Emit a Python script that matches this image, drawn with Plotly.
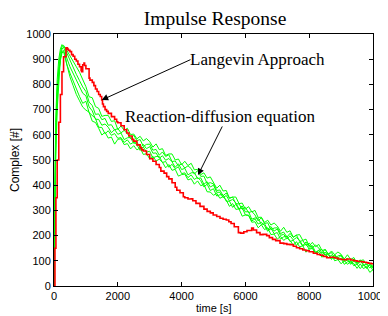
import plotly.graph_objects as go

# ---- data ----
t_green = [0, 20, 50, 100, 150, 200, 250, 300, 350, 400, 500, 600, 700, 800, 900,
           1000, 1100, 1200, 1300, 1400, 1500, 1600, 1700, 1800, 1900,
           2000, 2100, 2200, 2300, 2400, 2500, 2600, 2700, 2800, 2900,
           3000, 3100, 3200, 3300, 3400, 3500, 3600, 3700, 3800, 3900,
           4000, 4100, 4200, 4300, 4400, 4500, 4600, 4700, 4800, 4900,
           5000, 5100, 5200, 5300, 5400, 5500, 5600, 5700, 5800, 5900,
           6000, 6100, 6200, 6300, 6400, 6500, 6600, 6700, 6800, 6900,
           7000, 7100, 7200, 7300, 7400, 7500, 7600, 7700, 7800, 7900,
           8000, 8100, 8200, 8300, 8400, 8500, 8600, 8700, 8800, 8900,
           9000, 9100, 9200, 9300, 9400, 9500, 9600, 9700, 9800, 9900, 10000]

green_a = [0, 380, 650, 820, 900, 940, 958, 950, 945, 935, 915, 895, 870, 848, 822,
           791, 751, 747, 712, 705, 673, 677, 677, 653, 656,
           621, 635, 618, 626, 601, 603, 584, 594, 576, 585,
           573, 551, 564, 541, 545, 518, 524, 524, 500, 504,
           481, 495, 478, 487, 461, 463, 442, 449, 428, 433,
           412, 388, 400, 377, 379, 349, 353, 353, 327, 329,
           305, 315, 294, 300, 272, 273, 252, 261, 242, 250,
           238, 217, 233, 213, 219, 194, 202, 204, 181, 186,
           159, 173, 156, 165, 141, 144, 126, 139, 124, 135,
           126, 107, 124, 105, 113, 89, 100, 104, 84, 92, 74]
green_b = [0, 250, 520, 760, 870, 925, 950, 955, 945, 925, 895, 865, 840, 815, 790,
           772, 730, 716, 681, 683, 660, 665, 638, 640, 619,
           625, 608, 617, 605, 584, 598, 577, 581, 554, 562,
           563, 539, 542, 519, 532, 514, 521, 494, 496, 476,
           485, 468, 477, 466, 444, 458, 435, 436, 406, 410,
           405, 379, 381, 358, 369, 348, 353, 326, 326, 304,
           312, 291, 296, 282, 258, 271, 248, 251, 223, 230,
           231, 208, 214, 194, 209, 193, 202, 177, 180, 161,
           170, 153, 162, 151, 131, 146, 126, 133, 109, 119,
           123, 102, 109, 90, 107, 92, 104, 81, 87, 71, 85]
green_c = [0, 200, 480, 700, 830, 900, 940, 948, 930, 905, 870, 845, 815, 790, 765,
           755, 711, 695, 662, 661, 638, 643, 630, 608, 621,
           602, 607, 581, 588, 590, 566, 571, 549, 562, 545,
           553, 527, 528, 507, 517, 499, 506, 493, 471, 485,
           462, 467, 441, 449, 450, 426, 429, 404, 414, 393,
           400, 372, 372, 351, 359, 338, 343, 330, 306, 318,
           294, 295, 265, 270, 269, 244, 247, 224, 236, 218,
           226, 201, 205, 187, 199, 183, 192, 181, 160, 175,
           155, 160, 134, 142, 145, 122, 128, 109, 125, 110,
           121, 98, 103, 86, 100, 85, 97, 88, 70, 88, 70]
green_d = [0, 420, 600, 780, 860, 905, 930, 935, 915, 880, 845, 812, 780, 752, 725,
           733, 688, 677, 665, 630, 629, 604, 616, 598, 605,
           586, 589, 570, 580, 563, 571, 560, 538, 552, 531,
           535, 508, 514, 514, 490, 494, 471, 483, 465, 473,
           446, 449, 430, 441, 423, 431, 418, 393, 404, 379,
           386, 357, 362, 362, 336, 337, 312, 324, 304, 310,
           282, 281, 258, 266, 246, 253, 240, 217, 230, 208,
           212, 186, 195, 198, 176, 182, 161, 175, 158, 167,
           146, 149, 130, 141, 125, 134, 124, 105, 122, 103,
           110, 86, 96, 100, 80, 87, 69, 85, 71, 83, 61]
green_e = [0, 350, 580, 740, 845, 895, 925, 930, 905, 870, 830, 795, 760, 735, 710,
           698, 690, 654, 649, 626, 599, 610, 587, 591, 563,
           582, 584, 561, 565, 544, 557, 540, 548, 522, 525,
           505, 515, 496, 503, 491, 469, 482, 459, 463, 436,
           442, 444, 421, 426, 404, 417, 398, 403, 374, 373,
           360, 368, 348, 355, 341, 316, 327, 304, 306, 277,
           282, 280, 253, 255, 231, 243, 224, 231, 204, 206,
           186, 197, 181, 191, 181, 161, 176, 155, 160, 134,
           150, 152, 129, 134, 114, 128, 112, 123, 100, 105,
           88, 101, 86, 97, 89, 70, 88, 69, 77, 54, 65]
green_series = [green_a, green_b, green_c, green_d, green_e]

t_red = [0, 30, 60, 100, 150, 200, 250, 300, 376, 420, 450, 500, 550, 600, 650,
         700, 750, 800, 850, 868, 900, 940, 960, 1000, 1100, 1128, 1200, 1250,
         1300, 1350, 1400, 1450, 1495, 1520, 1550, 1600, 1650, 1700, 1800, 1900,
         1965, 2000, 2100, 2200, 2280, 2350, 2450, 2500, 2600, 2700, 2750, 2800,
         2900, 3000, 3100, 3200, 3300, 3350, 3450, 3532, 3600, 3700, 3800, 3850,
         3950, 4053, 4100, 4200, 4300, 4350, 4450, 4577, 4700, 4800, 4900, 4990,
         5100, 5204, 5300, 5400, 5480, 5550, 5650, 5780, 5850, 5950, 6050, 6197,
         6250, 6350, 6458, 6550, 6667, 6750, 6850, 6950, 7085, 7200, 7300, 7400,
         7502, 7600, 7700, 7800, 7900, 8000, 8130, 8250, 8350, 8450, 8548, 8650,
         8800, 8900, 9000, 9100, 9175, 9300, 9400, 9500, 9550, 9650, 9700, 9800,
         9850, 9950, 10000]
red = [0, 150, 350, 500, 650, 760, 850, 910, 945, 940, 935, 930, 918, 912, 900,
       893, 880, 870, 855, 850, 878, 885, 875, 862, 825, 817, 808, 795,
       782, 772, 760, 752, 738, 722, 712, 700, 693, 685, 672, 662,
       652, 648, 636, 620, 607, 595, 582, 575, 560, 548, 540, 536,
       522, 505, 495, 482, 470, 456, 448, 434, 425, 410, 392, 380,
       370, 354, 350, 345, 346, 338, 328, 316, 305, 296, 290, 282,
       276, 269, 265, 262, 255, 248, 235, 212, 210, 215, 220, 230,
       222, 212, 204, 205, 200, 192, 185, 180, 170, 168, 165, 164,
       158, 152, 148, 143, 140, 136, 130, 125, 122, 117, 112, 114,
       111, 107, 105, 104, 107, 103, 100, 98, 97, 96, 94, 92,
       90, 88, 85]

x_ticks = [0, 2000, 4000, 6000, 8000, 10000]
y_ticks = [0, 100, 200, 300, 400, 500, 600, 700, 800, 900, 1000]

# annotation anchor points (data coordinates)
langevin_text_pos = (4200, 897)
langevin_arrow_tail = (4326, 901)
langevin_arrow_tip = (1495, 738)
rd_text_pos = (2150, 672)
rd_arrow_tail = (5298, 639)
rd_arrow_tip = (4514, 440)

fig = go.Figure()
for g in green_series:
    fig.add_trace(go.Scatter(x=t_green, y=g, mode="lines",
                             line=dict(color="#00ff00", width=1),
                             showlegend=False, hoverinfo="skip"))
fig.add_trace(go.Scatter(x=t_red, y=red, mode="lines",
                         line=dict(color="#ff0000", width=1.6, shape="hv"),
                         showlegend=False, hoverinfo="skip"))

serif = "Liberation Serif, Times New Roman, serif"
sans = "Liberation Sans, Arial, sans-serif"

annotations = [
    dict(x=langevin_text_pos[0], y=langevin_text_pos[1], xref="x", yref="y",
         text="Langevin Approach", showarrow=False, xanchor="left",
         yanchor="middle", font=dict(family=serif, size=17, color="black")),
    dict(x=rd_text_pos[0], y=rd_text_pos[1], xref="x", yref="y",
         text="Reaction-diffusion equation", showarrow=False, xanchor="left",
         yanchor="middle", font=dict(family=serif, size=17, color="black")),
    dict(x=langevin_arrow_tip[0], y=langevin_arrow_tip[1], xref="x", yref="y",
         ax=langevin_arrow_tail[0], ay=langevin_arrow_tail[1],
         axref="x", ayref="y", text="", showarrow=True,
         arrowhead=2, arrowsize=1.3, arrowwidth=1, arrowcolor="black"),
    dict(x=rd_arrow_tip[0], y=rd_arrow_tip[1], xref="x", yref="y",
         ax=rd_arrow_tail[0], ay=rd_arrow_tail[1],
         axref="x", ayref="y", text="", showarrow=True,
         arrowhead=2, arrowsize=1.3, arrowwidth=1, arrowcolor="black"),
    # x-axis title placed as text below the tick labels
    dict(x=0.5, y=-0.088, xref="paper", yref="paper", text="time [s]",
         showarrow=False, xanchor="center", yanchor="middle",
         font=dict(family=sans, size=11, color="black")),
]

# the page body adds an 8px offset, so the figure is sized to fill the rest
fig.update_layout(
    width=380, height=308,
    margin=dict(l=46, r=15, t=26, b=30),
    paper_bgcolor="white", plot_bgcolor="white",
    title=dict(text="Impulse Response", x=0.545, xanchor="center",
               y=0.967, yanchor="middle",
               font=dict(family=serif, size=19.5, color="black")),
    annotations=annotations,
    xaxis=dict(range=[0, 10000], tickvals=x_ticks,
               ticktext=[str(v) for v in x_ticks], automargin=False,
               ticklabeloverflow="allow",
               ticks="inside", ticklen=4, tickcolor="black",
               showline=True, linecolor="black", linewidth=1, mirror="ticks",
               showgrid=False, zeroline=True, zerolinecolor="black",
               zerolinewidth=2,
               tickfont=dict(family=sans, size=11, color="black")),
    yaxis=dict(range=[0, 1000], tickvals=y_ticks,
               ticktext=[str(v) for v in y_ticks], automargin=False,
               ticklabeloverflow="allow",
               ticks="inside", ticklen=4, tickcolor="black",
               showline=True, linecolor="black", linewidth=1, mirror="ticks",
               showgrid=False, zeroline=True, zerolinecolor="black",
               zerolinewidth=2,
               tickfont=dict(family=sans, size=11, color="black"),
               title=dict(text="Complex [#]", standoff=8,
                          font=dict(family=sans, size=12, color="black"))),
)

fig.write_html("out.html")
